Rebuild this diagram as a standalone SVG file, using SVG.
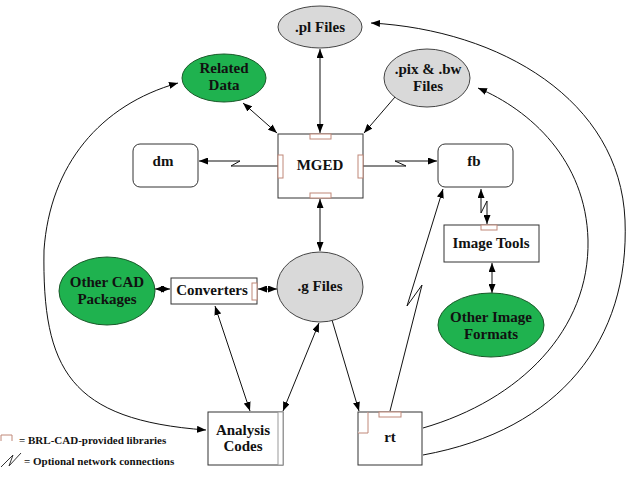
<svg xmlns="http://www.w3.org/2000/svg" width="640" height="480" viewBox="0 0 640 480">
<defs>
<marker id="ah" viewBox="0 0 9 7" refX="9" refY="3.5" markerWidth="9" markerHeight="7" markerUnits="userSpaceOnUse" orient="auto-start-reverse">
<path d="M0,0 L9,3.5 L0,7 z" fill="#000"/>
</marker>
<style>
.t{font-family:"Liberation Serif","DejaVu Serif",serif;font-weight:bold;font-size:15px;fill:#111;text-anchor:middle}
.lg{font-family:"Liberation Serif","DejaVu Serif",serif;font-weight:bold;font-size:11px;fill:#111}
.box{fill:#fff;stroke:#333;stroke-width:1}
.grey{fill:#d9d9d9;stroke:#444;stroke-width:1}
.green{fill:#1fb24f;stroke:#1a5a2a;stroke-width:1}
.lib{fill:#fff;stroke:#c08878;stroke-width:1}
.c{fill:none;stroke:#111;stroke-width:1}
.s{marker-end:url(#ah)}
.d{marker-start:url(#ah);marker-end:url(#ah)}
</style>
</defs>
<rect width="640" height="480" fill="#fff"/>

<g id="connectors">
<line class="c d" x1="320" y1="49" x2="320" y2="133"/>
<line class="c d" x1="243" y1="103" x2="277" y2="133"/>
<line class="c s" x1="395" y1="97" x2="364" y2="133"/>
<path class="c s" d="M278,166 L231,166 L240,161 L199,161"/>
<path class="c s" d="M363,166 L406,166 L395,161 L437,161"/>
<line class="c d" x1="320" y1="199" x2="320" y2="251"/>
<path class="c d" d="M481,189 L481,213 L487,201 L487,224"/>
<line class="c d" x1="492" y1="263" x2="492" y2="293"/>
<line class="c d" x1="155" y1="289" x2="170" y2="289"/>
<line class="c d" x1="258" y1="289" x2="277" y2="289"/>
<line class="c d" x1="215" y1="306" x2="250" y2="411"/>
<line class="c d" x1="319" y1="323" x2="283" y2="411"/>
<line class="c s" x1="332" y1="320" x2="359" y2="411"/>
<path class="c s" d="M390,411 L422,285 L407,306 L443,189"/>
<path class="c d" d="M178,83 C100,105 50,165 44,250 C42,370 70,420 206,430"/>
<path class="c s" d="M423,455 C560,430 630,340 625,220 C620,100 500,30 371,23"/>
<path class="c s" d="M423,428 C520,400 590,330 588,240 C586,160 530,110 478,88"/>
</g>

<g id="pl-files">
<ellipse class="grey" cx="320" cy="27" rx="42" ry="21"/>
<text class="t" x="320" y="32">.pl Files</text>
</g>
<g id="pix-bw-files">
<ellipse class="grey" cx="427" cy="78" rx="43" ry="29"/>
<text class="t" x="428" y="74">.pix &amp; .bw</text>
<text class="t" x="428" y="91">Files</text>
</g>
<g id="related-data">
<ellipse class="green" cx="224" cy="78" rx="42" ry="24"/>
<text class="t" x="224" y="73">Related</text>
<text class="t" x="224" y="90">Data</text>
</g>
<g id="mged">
<rect class="box" x="278" y="134" width="85" height="64"/>
<rect class="lib" x="310" y="134" width="21" height="5"/>
<rect class="lib" x="310" y="193" width="21" height="5"/>
<rect class="lib" x="278" y="155" width="5" height="23"/>
<rect class="lib" x="358" y="155" width="5" height="23"/>
<text class="t" x="320" y="170">MGED</text>
</g>
<g id="dm">
<rect class="box" x="133" y="144" width="65" height="43" rx="7"/>
<text class="t" x="163" y="166">dm</text>
</g>
<g id="fb">
<rect class="box" x="438" y="144" width="75" height="43" rx="7"/>
<text class="t" x="474" y="166">fb</text>
</g>
<g id="image-tools">
<rect class="box" x="444" y="225" width="95" height="37"/>
<rect class="lib" x="481" y="225" width="16" height="5"/>
<text class="t" x="491" y="248">Image Tools</text>
</g>
<g id="other-image-formats">
<ellipse class="green" cx="491" cy="325" rx="53" ry="32"/>
<text class="t" x="491" y="322">Other Image</text>
<text class="t" x="491" y="339">Formats</text>
</g>
<g id="g-files">
<ellipse class="grey" cx="320" cy="287" rx="43" ry="35"/>
<text class="t" x="320" y="291">.g Files</text>
</g>
<g id="converters">
<rect class="box" x="171" y="278" width="86" height="26"/>
<rect class="lib" x="252" y="283" width="5" height="17"/>
<text class="t" x="212" y="295">Converters</text>
</g>
<g id="other-cad">
<ellipse class="green" cx="107" cy="291" rx="48" ry="34"/>
<text class="t" x="107" y="287">Other CAD</text>
<text class="t" x="107" y="304">Packages</text>
</g>
<g id="analysis-codes">
<rect class="box" x="208" y="412" width="75" height="53"/>
<rect x="278" y="412" width="5" height="53" fill="#fff" stroke="#999"/>
<text class="t" x="243" y="435">Analysis</text>
<text class="t" x="243" y="451">Codes</text>
</g>
<g id="rt">
<rect class="box" x="358" y="412" width="64" height="53"/>
<rect class="lib" x="379" y="412" width="22" height="5"/>
<polyline class="lib" fill="none" points="368,412 368,433 358,433"/>
<text class="t" x="390" y="442">rt</text>
</g>

<g id="legend">
<path d="M1,441 L1,435 L12,435 L12,441" fill="none" stroke="#c08878"/>
<text class="lg" x="19" y="444">= BRL-CAD-provided libraries</text>
<path d="M1,467 L13,455 L9,466 L21,453" fill="none" stroke="#333"/>
<text class="lg" x="24" y="465">= Optional network connections</text>
</g>
</svg>
